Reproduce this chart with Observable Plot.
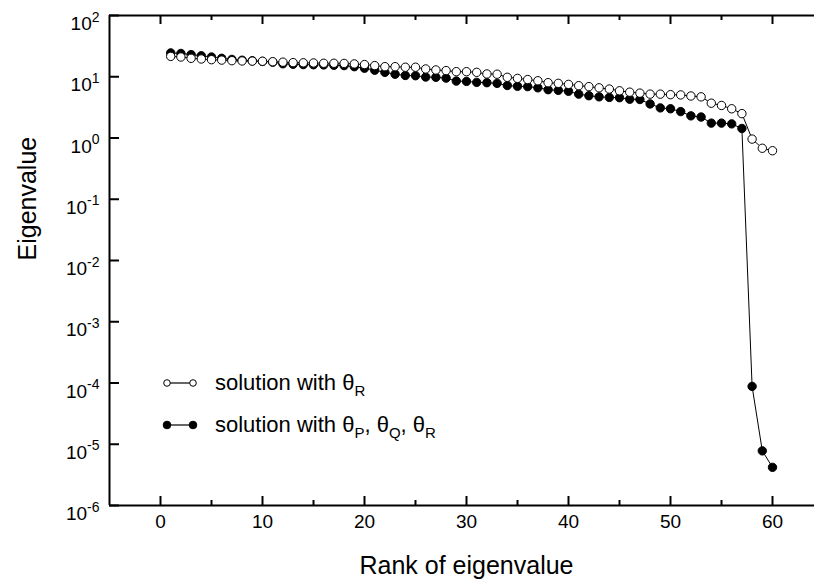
<!DOCTYPE html>
<html>
<head>
<meta charset="utf-8">
<script src="https://cdn.jsdelivr.net/npm/d3@7"></script>
<script src="https://cdn.jsdelivr.net/npm/@observablehq/plot@0.6"></script>
<style>
  html, body { margin: 0; padding: 0; background: #fff; overflow: hidden; }
  #chart { position: relative; width: 814px; height: 582px; overflow: hidden; font-family: "Liberation Sans", Arial, sans-serif; }
  .leg { position: absolute; height: 28px; line-height: 28px; display: flex; align-items: center; font-size: 22px; color: #000; white-space: nowrap; }
  .leg svg { display: block; margin-right: 15px; }
  .leg sub { font-size: 15px; vertical-align: -6px; line-height: 0; }
</style>
</head>
<body>
<div id="chart"></div>
<script>
// ---- data ----
const ranks = [1,2,3,4,5,6,7,8,9,10,11,12,13,14,15,16,17,18,19,20,
               21,22,23,24,25,26,27,28,29,30,31,32,33,34,35,36,37,38,39,40,
               41,42,43,44,45,46,47,48,49,50,51,52,53,54,55,56,57,58,59,60];
// solution with theta_R (open circles)
const openVals = [21.5,21,20,19.5,19,18.7,18.3,18.1,18,17.9,
                  17.6,17.3,17,16.9,16.8,16.6,16.6,16.5,16.2,15.8,
                  15.2,14.6,14.6,14.3,14.3,13.4,12.9,12.6,12.1,12.1,
                  11.8,11.1,11.0,9.8,9.4,9.0,8.6,8.0,7.8,7.5,
                  7.15,6.9,6.6,6.3,5.9,5.6,5.4,5.2,5.2,5.1,
                  5.05,4.85,4.7,3.7,3.4,3.0,2.5,0.96,0.68,0.62];
// solution with theta_P, theta_Q, theta_R (filled circles)
const filledVals = [24.5,24,23,22,21,20,19.2,18.6,18.2,17.8,
                    17.3,16.3,16,15.8,15.7,15.6,15.4,15.2,14.6,13.8,
                    12.8,11.8,11.0,10.5,10.4,9.9,9.8,9.5,8.5,8.4,
                    8.1,8.0,7.8,7.2,7.0,6.9,6.6,6.15,6.0,5.8,
                    5.2,4.9,4.7,4.6,4.55,4.3,4.25,3.6,3.1,3.0,
                    2.7,2.3,2.2,1.75,1.75,1.7,1.43,8.8e-5,7.8e-6,4.2e-6];
const xMajorTicks = [0,10,20,30,40,50,60];
const xMinorTicks = [5,15,25,35,45,55];
const yTickExponents = [2,1,0,-1,-2,-3,-4,-5,-6];
const xDomain = [-5, 65];
const yDomain = [1e-6, 1e2];
const xTitle = "Rank of eigenvalue";
const yTitle = "Eigenvalue";

// ---- layout ----
const W = 823, H = 582;
const mL = 109, mT = 15, mB = 77, mR = 0;
const plotW = W - mL - mR, plotH = H - mT - mB;

const openData = ranks.map((r, i) => ({rank: r, value: openVals[i]}));
const filledData = ranks.map((r, i) => ({rank: r, value: filledVals[i]}));
const yTickVals = yTickExponents.map(e => Math.pow(10, e));

const chart = Plot.plot({
  width: W, height: H,
  marginLeft: mL, marginTop: mT, marginBottom: mB, marginRight: mR,
  style: {fontFamily: "'Liberation Sans', Arial, sans-serif", background: "white", maxWidth: "none", color: "black"},
  x: {domain: xDomain, axis: null},
  y: {type: "log", domain: yDomain, axis: null},
  marks: [
    Plot.axisX(xMajorTicks, {tickSize: 0, tickPadding: 9, fontSize: 19, label: null, tickFormat: d => String(d)}),
    Plot.axisY(yTickVals, {tickSize: 0, tickPadding: 10, fontSize: 19, label: null,
      tickFormat: d => "10^" + Math.round(Math.log10(d))}),
    // frame (left, bottom, top)
    Plot.ruleX([xDomain[0]], {stroke: "black", strokeWidth: 2}),
    Plot.ruleY([yDomain[0], yDomain[1]], {stroke: "black", strokeWidth: 2}),
    // inward ticks, bottom and top
    Plot.tickX(xMajorTicks, {x: d => d, stroke: "black", strokeWidth: 2, insetTop: plotH - 9}),
    Plot.tickX(xMajorTicks, {x: d => d, stroke: "black", strokeWidth: 2, insetBottom: plotH - 9}),
    Plot.tickX(xMinorTicks, {x: d => d, stroke: "black", strokeWidth: 2, insetTop: plotH - 5}),
    Plot.tickX(xMinorTicks, {x: d => d, stroke: "black", strokeWidth: 2, insetBottom: plotH - 5}),
    // inward ticks, left
    Plot.tickY(yTickVals, {y: d => d, stroke: "black", strokeWidth: 2, insetRight: plotW - 10}),
    // series
    Plot.line(filledData, {x: "rank", y: "value", stroke: "black", strokeWidth: 1}),
    Plot.dot(filledData, {x: "rank", y: "value", r: 4.2, fill: "black", stroke: "black", strokeWidth: 1}),
    Plot.line(openData, {x: "rank", y: "value", stroke: "black", strokeWidth: 1}),
    Plot.dot(openData, {x: "rank", y: "value", r: 4.2, fill: "white", stroke: "black", strokeWidth: 1}),
    // axis titles
    Plot.text([xTitle], {frameAnchor: "bottom", dy: 68, fontSize: 25, fill: "black"}),
    Plot.text([yTitle], {frameAnchor: "left", rotate: -90, dx: -82, fontSize: 25, fill: "black"})
  ]
});

// superscript exponents on y tick labels
d3.select(chart).selectAll('g[aria-label="y-axis tick label"] text').each(function() {
  const t = this.textContent;
  const m = /^10\^(-?\d+)$/.exec(t);
  if (!m) return;
  const sel = d3.select(this);
  sel.text("10").attr("dy", "0.45em");
  sel.append("tspan").attr("dy", "-0.6em").attr("font-size", "14px").text(m[1]);
});

const root = document.getElementById("chart");
root.appendChild(chart);

// legend
function legendRow(top, filled, html) {
  const row = document.createElement("div");
  row.className = "leg";
  row.style.left = "160px";
  row.style.top = top + "px";
  const fill = filled ? "black" : "white";
  const r = filled ? 3.8 : 3.3;
  row.innerHTML =
    `<svg width="40" height="12" viewBox="0 0 40 12">
       <line x1="7" y1="6" x2="33" y2="6" stroke="black" stroke-width="1.2"/>
       <circle cx="7" cy="6" r="${r}" fill="${fill}" stroke="black" stroke-width="1"/>
       <circle cx="33" cy="6" r="${r}" fill="${fill}" stroke="black" stroke-width="1"/>
     </svg><span>${html}</span>`;
  root.appendChild(row);
}
legendRow(369, false, "solution with θ<sub>R</sub>");
legendRow(411, true, "solution with θ<sub>P</sub>, θ<sub>Q</sub>, θ<sub>R</sub>");
</script>
</body>
</html>
